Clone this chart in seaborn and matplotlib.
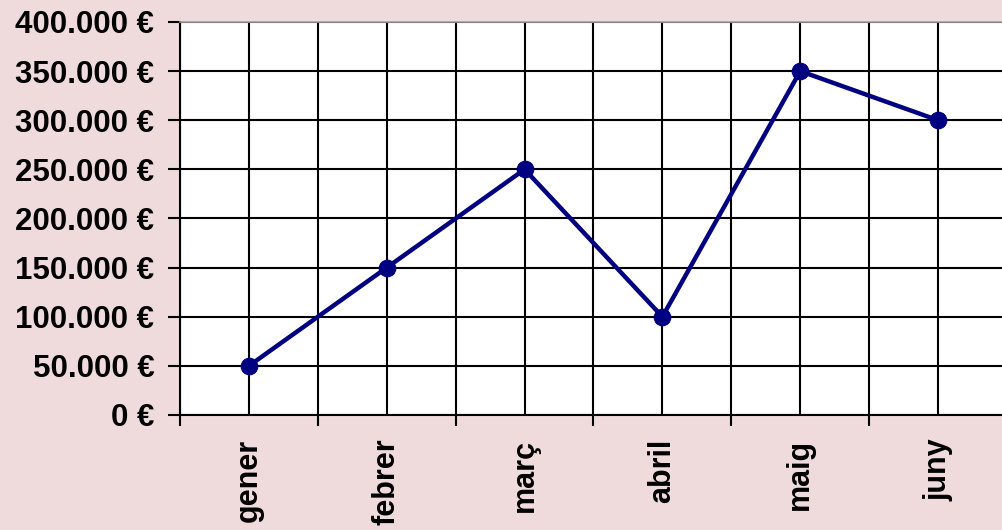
import numpy as np
import pandas as pd
import matplotlib
matplotlib.use("Agg")
import matplotlib.pyplot as plt
import seaborn as sns
from matplotlib.ticker import FuncFormatter, MultipleLocator

months = ["gener", "febrer", "març", "abril", "maig", "juny"]
sales = [50000, 150000, 250000, 100000, 350000, 300000]

BG = "#efdbdb"
LINE = "#000080"

sns.set_style("white")
plt.rcParams["font.family"] = ["Liberation Sans", "DejaVu Sans"]

df = pd.DataFrame({"month": months, "sales": sales})

fig = plt.figure(figsize=(10.02, 5.30), dpi=100, facecolor=BG)
ax = fig.add_axes([180 / 1002, 115 / 530, 827 / 1002, 393 / 530])
ax.set_facecolor("white")

sns.lineplot(data=df, x="month", y="sales", sort=False, ax=ax,
             color=LINE, linewidth=3.2, marker="o", markersize=12,
             markeredgecolor=LINE, zorder=5)

ax.set_xlim(-0.5, len(months) - 0.5)
ax.set_ylim(0, 400000)

# y axis
ax.yaxis.set_major_locator(MultipleLocator(50000))
ax.yaxis.set_major_formatter(FuncFormatter(lambda v, p: f"{int(v):,} €".replace(",", ".")))
ax.tick_params(axis="y", which="major", direction="out", length=8.5, width=1.5,
               color="black", labelsize=22.5, labelcolor="black", pad=10, left=True)

# x axis: labels at centres, tick marks at boundaries
ax.set_xticks(range(len(months)))
ax.set_xticklabels(months, rotation=90)
ax.set_xticks(np.arange(-0.5, len(months) + 0.5, 1), minor=True)
ax.tick_params(axis="x", which="major", length=0, labelsize=22,
               labelcolor="black", pad=17)
ax.tick_params(axis="x", which="minor", direction="out", length=8, width=1.5,
               color="black", bottom=True)
for lab in ax.get_xticklabels() + ax.get_yticklabels():
    lab.set_fontweight("bold")

ax.grid(True, which="major", axis="both", color="black", linewidth=1.5)
ax.grid(True, which="minor", axis="x", color="black", linewidth=1.5)
ax.set_axisbelow(True)

ax.set_xlabel("")
ax.set_ylabel("")

for side in ["left", "bottom"]:
    ax.spines[side].set_color("black")
    ax.spines[side].set_linewidth(1.5)
ax.spines["top"].set_color("#a0a0a0")
ax.spines["top"].set_linewidth(1.2)
ax.spines["right"].set_visible(False)

fig.savefig("out.png", dpi=100, facecolor=BG)
